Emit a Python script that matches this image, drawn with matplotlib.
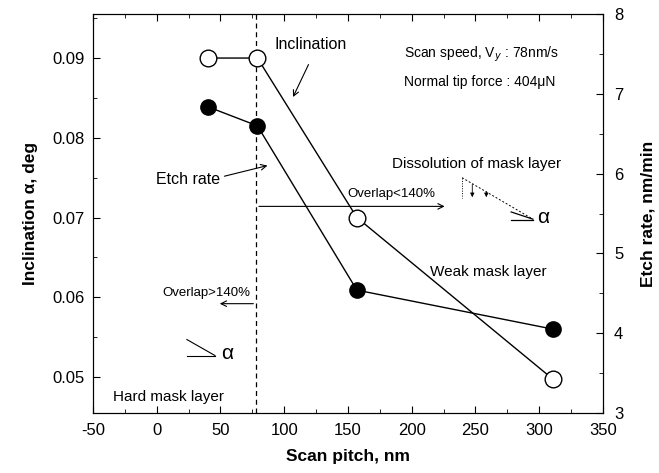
import matplotlib
matplotlib.use("Agg")
import matplotlib.pyplot as plt
from matplotlib.ticker import MultipleLocator

plt.rcParams['font.family'] = ['Liberation Sans', 'DejaVu Sans']
plt.rcParams['axes.unicode_minus'] = False

# scan pitch (nm)
pitch = [40, 79, 157, 311]
# inclination alpha (deg), open circles, left axis
inclination = [0.090, 0.090, 0.070, 0.0497]
# etch rate (nm/min), filled circles, right axis
etch_rate = [6.84, 6.60, 4.54, 4.05]

boundary_pitch = 78

fig = plt.figure(figsize=(6.59, 4.73), dpi=100)
ax = fig.add_axes([0.141, 0.127, 0.774, 0.843])
ax2 = ax.twinx()

ax.plot(pitch, inclination, color='black', lw=1.0, marker='o', ms=12,
        mfc='white', mec='black', mew=1.0, zorder=3)
ax2.plot(pitch, etch_rate, color='black', lw=1.0, marker='o', ms=11,
         mfc='black', mec='black', zorder=3)

ax.set_xlim(-50, 350)
ax.set_ylim(0.0455, 0.0955)
ax2.set_ylim(3, 8)

ax.xaxis.set_major_locator(MultipleLocator(50))
ax.xaxis.set_minor_locator(MultipleLocator(25))
ax.yaxis.set_major_locator(MultipleLocator(0.01))
ax.yaxis.set_minor_locator(MultipleLocator(0.005))
ax2.yaxis.set_major_locator(MultipleLocator(1))
ax2.yaxis.set_minor_locator(MultipleLocator(0.5))
ax.yaxis.set_major_formatter(plt.FormatStrFormatter('%.2f'))

ax.tick_params(which='both', direction='in', top=True, labelsize=12)
ax.tick_params(axis='x', pad=7)
ax.tick_params(axis='y', pad=6)
ax.tick_params(which='major', length=5)
ax.tick_params(which='minor', length=3)
ax2.tick_params(which='both', direction='in', labelsize=12, pad=8)
ax2.tick_params(which='major', length=5)
ax2.tick_params(which='minor', length=3)

ax.set_xlabel('Scan pitch, nm', fontsize=12.5, fontweight='bold', labelpad=8)
ax.set_ylabel('Inclination α, deg', fontsize=12.5, fontweight='bold', labelpad=10)
ax2.set_ylabel('Etch rate, nm/min', fontsize=12.5, fontweight='bold', labelpad=12)

# boundary between hard and weak mask
ax.axvline(boundary_pitch, color='black', lw=0.9, ls=(0, (4, 3)))

# text labels
ax.text(92.7, 0.0917, 'Inclination', fontsize=11.5, va='center')
ax.annotate('', xy=(106, 0.0848), xytext=(120, 0.0895),
            arrowprops=dict(arrowstyle='->', lw=0.8, color='black'))
ax.text(49.6, 0.0748, 'Etch rate', fontsize=11.5, va='center', ha='right')
ax.annotate('', xy=(89, 0.0766), xytext=(51, 0.0751),
            arrowprops=dict(arrowstyle='->', lw=0.8, color='black'))

ax.text(193.9, 0.0905, 'Scan speed, V$_y$ : 78nm/s', fontsize=10, va='center')
ax.text(193.9, 0.0870, 'Normal tip force : 404μN', fontsize=10, va='center')
ax.text(184.5, 0.0767, 'Dissolution of mask layer', fontsize=11, va='center')
ax.text(214.3, 0.0632, 'Weak mask layer', fontsize=11, va='center')
ax.text(-34.3, 0.0475, 'Hard mask layer', fontsize=11, va='center')

# overlap arrows
ax.annotate('', xy=(228, 0.0714), xytext=(boundary_pitch, 0.0714),
            arrowprops=dict(arrowstyle='->', lw=0.8, color='black'))
ax.text(149.2, 0.0730, 'Overlap<140%', fontsize=9.5, va='center')
ax.annotate('', xy=(47.3, 0.0592), xytext=(boundary_pitch, 0.0592),
            arrowprops=dict(arrowstyle='->', lw=0.8, color='black'))
ax.text(73.1, 0.0606, 'Overlap>140%', fontsize=9.5, va='center', ha='right')

# angle sketch, hard mask
ax.plot([23.7, 45.7], [0.0547, 0.0527], color='black', lw=0.8)
ax.plot([23.7, 45.7], [0.0527, 0.0527], color='black', lw=0.8)
ax.text(50.5, 0.0529, 'α', fontsize=15, va='center')

# angle sketch, weak mask
ax.plot([239.5, 295.0], [0.0750, 0.0698], color='black', lw=0.7, ls=(0, (2, 2)))
ax.plot([239.5, 239.5], [0.0750, 0.0725], color='black', lw=0.7, ls=(0, (1, 1.5)))
ax.plot([278, 295.0], [0.0707, 0.0698], color='black', lw=0.9)
ax.plot([278, 295.0], [0.0697, 0.0697], color='black', lw=0.9)
ax.annotate('', xy=(247.5, 0.0722), xytext=(247.5, 0.0745),
            arrowprops=dict(arrowstyle='-|>', lw=0.6, color='black', mutation_scale=6))
ax.annotate('', xy=(258.5, 0.0722), xytext=(258.5, 0.0736),
            arrowprops=dict(arrowstyle='-|>', lw=0.6, color='black', mutation_scale=6))
ax.text(298.5, 0.0700, 'α', fontsize=15, va='center')

fig.savefig('out.png', dpi=100)
